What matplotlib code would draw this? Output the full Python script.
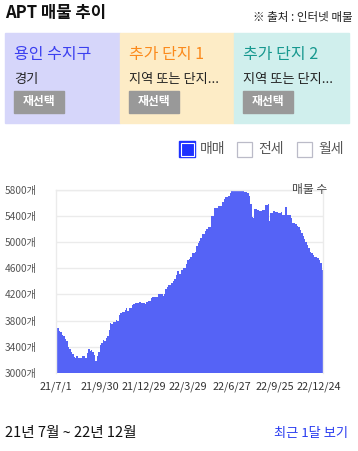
import numpy as np
import pandas as pd
import matplotlib
matplotlib.use('Agg')
import matplotlib.pyplot as plt
import matplotlib.dates as mdates
from matplotlib.patches import Rectangle

plt.rcParams['font.family'] = ['Noto Sans CJK KR', 'DejaVu Sans']

# listing counts, every 3 days from 2021-07-01
start = '2021-07-01'
counts = [
    3710, 3690, 3640, 3620, 3580, 3560, 3510, 3480, 3400, 3370,
    3320, 3280, 3240, 3220, 3250, 3220, 3220, 3230, 3250, 3250,
    3230, 3300, 3370, 3330, 3350, 3320, 3270, 3180, 3260, 3320,
    3430, 3450, 3500, 3480, 3530, 3570, 3650, 3760, 3740, 3780,
    3770, 3810, 3800, 3880, 3920, 3930, 3930, 3960, 3990, 3950,
    3990, 3990, 4030, 4060, 4075, 4075, 4070, 4080, 4070, 4070,
    4070, 4060, 4090, 4100, 4100, 4150, 4165, 4165, 4165, 4160,
    4210, 4210, 4210, 4170, 4210, 4290, 4320, 4340, 4340, 4380,
    4410, 4430, 4500, 4560, 4510, 4510,
    4579, 4600, 4600, 4660, 4722, 4737, 4773, 4834, 4834, 4855,
    4942, 4983, 5024, 5070, 5121, 5121, 5172, 5202, 5238, 5238,
    5407, 5407, 5519, 5519, 5519, 5560, 5560, 5560, 5621, 5657,
    5693, 5693, 5713, 5749, 5785, 5816, 5826, 5826, 5826, 5826,
    5806, 5800, 5800, 5775, 5775, 5749, 5713, 5581, 5391, 5366,
    5509, 5509, 5489, 5478, 5478, 5489, 5489, 5570, 5570, 5591,
    5330, 5442, 5442, 5478, 5458, 5458, 5453, 5453, 5458, 5417,
    5417, 5540, 5417, 5417, 5417, 5366, 5299, 5299, 5284, 5248,
    5238, 5182, 5136, 5095, 5049, 5008, 4957, 4916, 4855, 4829,
    4804, 4778, 4778, 4753, 4727, 4676, 4574,
]
yticks = [3000, 3400, 3800, 4200, 4600, 5000, 5400, 5800]
xtick_dates = ['2021-07-01', '2021-09-30', '2021-12-29', '2022-03-29',
               '2022-06-27', '2022-09-25', '2022-12-24']
xtick_labels = ['21/7/1', '21/9/30', '21/12/29', '22/3/29', '22/6/27', '22/9/25', '22/12/24']

panels = [
    ('용인 수지구', '경기', '#d6d6fa', '#3b3ff0'),
    ('추가 단지 1', '지역 또는 단지...', '#fdecc6', '#fb8a1c'),
    ('추가 단지 2', '지역 또는 단지...', '#d0efed', '#17988f'),
]
legend_items = [('매매', True), ('전세', False), ('월세', False)]

W, H = 358, 451
fig = plt.figure(figsize=(W / 100, H / 100), dpi=100)

def fx(x):
    return x / W
def fy(y):
    return 1 - y / H

# header
fig.text(fx(5), fy(13), 'APT 매물 추이', fontsize=12, fontweight='bold',
         color='#111111', va='center', ha='left')
fig.text(fx(353), fy(17), '※ 출처 : 인터넷 매물', fontsize=8.3,
         color='#222222', va='center', ha='right', fontweight='medium')

# region panels
x0 = 5
pw = 114.7
for k, (title, sub, bg, fg) in enumerate(panels):
    px = x0 + k * pw
    fig.patches.append(Rectangle((fx(px), fy(123)), pw / W, 90 / H,
                                 transform=fig.transFigure, color=bg, zorder=0))
    fig.text(fx(px + 9), fy(54), title, fontsize=11.5, color=fg,
             va='center', ha='left', fontweight='medium')
    fig.text(fx(px + 9), fy(79), sub, fontsize=9.5, color='#222222',
             va='center', ha='left', fontweight='medium')
    fig.patches.append(Rectangle((fx(px + 9), fy(113)), 50 / W, 22 / H,
                                 transform=fig.transFigure, color='#999999', zorder=1))
    fig.text(fx(px + 34), fy(102), '재선택', fontsize=8.5, color='white',
             fontweight='bold', va='center', ha='center', zorder=2)

# legend checkboxes
box_x = [179, 237, 297]
for bx, (lab, on) in zip(box_x, legend_items):
    if on:
        fig.patches.append(Rectangle((fx(bx), fy(157)), 16 / W, 16 / H,
                                     transform=fig.transFigure, facecolor='#1e32ff',
                                     edgecolor='#1e32ff', lw=1))
        fig.patches.append(Rectangle((fx(bx + 1.5), fy(155.5)), 13 / W, 13 / H,
                                     transform=fig.transFigure, facecolor='#1e32ff',
                                     edgecolor='white', lw=0.8))
    else:
        fig.patches.append(Rectangle((fx(bx), fy(157)), 15 / W, 15 / H,
                                     transform=fig.transFigure, facecolor='white',
                                     edgecolor='#bbbbc8', lw=0.9))
    fig.text(fx(bx + 21), fy(149), lab, fontsize=10, color='#555555',
             va='center', ha='left')

# chart
dates = pd.date_range(start, periods=len(counts), freq='3D')
ax = fig.add_axes([fx(56), fy(372.7), 267 / W, 182.7 / H])
ax.bar(dates, counts, width=3, align='edge', color='#5563f6', linewidth=0, zorder=2)
ax.set_ylim(3000, 5800)
t0 = pd.Timestamp(start)
ax.set_xlim(t0, t0 + pd.Timedelta(days=549))
ax.set_yticks(yticks)
ax.set_yticklabels(['%d개' % v for v in yticks])
ax.set_xticks(pd.to_datetime(xtick_dates))
ax.set_xticklabels(xtick_labels)
ax.tick_params(axis='y', length=0, pad=14, labelsize=7.3, labelcolor='#555555')
ax.tick_params(axis='x', length=0, pad=6, labelsize=7.8, labelcolor='#333333')
for lbl in ax.get_yticklabels():
    lbl.set_horizontalalignment('right')
ax.grid(axis='y', color='#ebebeb', lw=1, zorder=0)
for s in ax.spines.values():
    s.set_color('#ebebeb')
    s.set_linewidth(1)
ax.spines['bottom'].set_visible(False)
fig.text(fx(327), fy(189), '매물 수', fontsize=8.5, color='#444444',
         va='center', ha='right')

# footer
fig.text(fx(5), fy(433), '21년 7월 ~ 22년 12월', fontsize=10.5, color='#111111',
         va='center', ha='left', fontweight='medium')
fig.text(fx(348), fy(433), '최근 1달 보기', fontsize=9.5, color='#2a3cf0',
         va='center', ha='right', fontweight='medium')

fig.savefig('out.png', dpi=100)
